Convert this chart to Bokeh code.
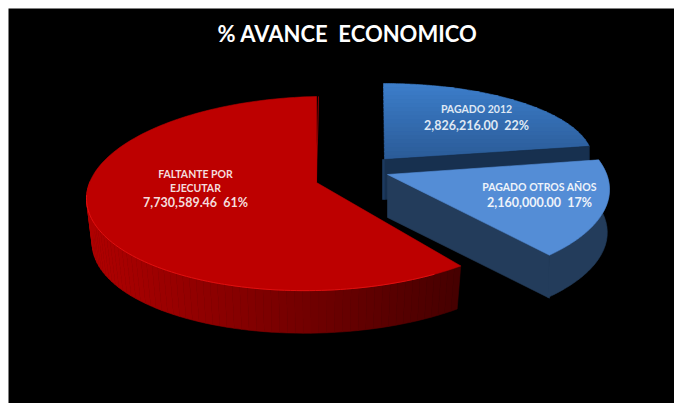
import numpy as np
from bokeh.plotting import figure
from bokeh.models import Range1d, ColumnDataSource
from bokeh.core.properties import value
from bokeh.embed import file_html
from bokeh.resources import INLINE

title_text = "% AVANCE \u00a0ECONOMICO"
categories = ["FALTANTE POR EJECUTAR", "PAGADO OTROS AÑOS", "PAGADO 2012"]
amounts = [7730589.46, 2160000.00, 2826216.00]
percents = [61, 17, 22]
name_lines = [["FALTANTE POR", "EJECUTAR"], ["PAGADO OTROS AÑOS"], ["PAGADO 2012"]]

shares = np.array(amounts) / sum(amounts) * 360.0
starts = 90.0 + np.concatenate([[0.0], np.cumsum(shares)[:-1]])
ends = starts + shares

# layout of each exploded slice in the picture
RED, LIGHT, BLUE = 0, 1, 2
geom = {
    RED:   dict(c=(316, 193), a=230, b=97, skew=5, rot=0, apex=(316, 182), depth=45, inset=0.975),
    LIGHT: dict(c=(387, 189), a=222, b=96, skew=0, rot=8, apex=(387, 174), depth=43, inset=0.99),
    BLUE:  dict(c=(383, 159), a=209, b=76, skew=0, rot=0, apex=(384, 159), depth=40, inset=1.0),
}

def rim(g, t, bottom=False):
    t = np.radians(np.asarray(t, dtype=float) + g["rot"])
    f = g["inset"] if bottom else 1.0
    x = g["c"][0] + g["a"] * f * np.cos(t)
    y = g["c"][1] - g["b"] * f * np.sin(t) - g["skew"] * np.cos(t)
    if bottom:
        y = y + g["depth"]
    return x, y

def top_poly(i, n=160):
    g = geom[i]
    x, y = rim(g, np.linspace(starts[i], ends[i], n))
    return np.r_[g["apex"][0], x], np.r_[g["apex"][1], y]

def clip_band(xs, ys, y0, y1):
    pts = list(zip(xs, ys))
    for keep, lim in ((lambda v: v >= y0, y0), (lambda v: v <= y1, y1)):
        out = []
        for k in range(len(pts)):
            p_, q = pts[k - 1], pts[k]
            if keep(p_[1]) != keep(q[1]):
                r = (lim - p_[1]) / (q[1] - p_[1])
                out.append((p_[0] + r * (q[0] - p_[0]), lim))
            if keep(q[1]):
                out.append(q)
        pts = out
        if not pts:
            return [], []
    return [a for a, _ in pts], [b for _, b in pts]

def mix(c0, c1, r):
    r = float(np.clip(r, 0, 1))
    return "#%02x%02x%02x" % tuple(int(round(u + (v - u) * r)) for u, v in zip(c0, c1))

p = figure(width=674, height=403, output_backend="svg", toolbar_location=None,
           x_range=Range1d(8, 674), y_range=Range1d(403, 8),
           background_fill_color="#000000", border_fill_color="#ffffff",
           min_border=0, min_border_left=8, min_border_top=8,
           outline_line_color=None)
p.axis.visible = False
p.grid.visible = False

def fill(xs, ys, color):
    p.patch(list(xs), list(ys), fill_color=color, line_color=color, line_width=0.6)

# PAGADO 2012: top with vertical shading, then the cut walls
g = geom[BLUE]
ax, ay = g["apex"]
xs, ys = top_poly(BLUE)
edges = np.arange(ys.min(), ys.max() + 4, 4)
for y0, y1 in zip(edges[:-1], edges[1:]):
    bx, by = clip_band(xs, ys, y0, y1 + 0.5)
    if bx:
        fill(bx, by, mix((0x3c, 0x7d, 0xc9), (0x2a, 0x5a, 0x96), (y0 - edges[0]) / (edges[-1] - edges[0])))
sx, sy = rim(g, starts[BLUE])
fill([ax, sx, sx, ax], [ay, sy, sy + g["depth"], ay + g["depth"]], "#17304f")
fill([ax - 2, ax, ax, ax - 2], [ay, ay, ay + g["depth"], ay + g["depth"]], "#1c3a60")

# PAGADO OTROS AÑOS: walls and top
g = geom[LIGHT]
ax, ay = g["apex"]
ex, ey = rim(g, starts[LIGHT])
fill([ax, ex, ex, ax], [ay, ey, ey + g["depth"], ay + g["depth"]], "#233c5b")
ts = np.linspace(starts[LIGHT], ends[LIGHT], 80)
tx, ty = rim(g, ts)
bx, by = rim(g, ts, bottom=True)
fill(np.r_[tx, bx[::-1]], np.r_[ty, by[::-1]], "#233c5b")
xs, ys = top_poly(LIGHT)
fill(xs, ys, "#548dd6")

# FALTANTE: outer wall with shading, thin cut wall, top, bright rim
g = geom[RED]
ax, ay = g["apex"]
ts = np.linspace(170, ends[RED], 70)
for t0, t1 in zip(ts[:-1], ts[1:]):
    a0, b0 = rim(g, t0)
    a1, b1 = rim(g, t1)
    c0, d0 = rim(g, t0, bottom=True)
    c1, d1 = rim(g, t1, bottom=True)
    fill([a0, a1, c1, c0], [b0, b1, d1, d0],
         mix((0xb0, 0, 0), (0x44, 0, 0), (float(a0) - 86) / (460 - 86)))
sx, sy = rim(g, starts[RED])
fill([sx + 2, sx + 1, ax - 5, ax], [sy, sy + 43, ay - 4, ay], "#a00000")
xs, ys = top_poly(RED)
fill(xs, ys, "#bd0000")
lx, ly = rim(g, np.linspace(178, ends[RED] - 8, 80))
p.line(lx, ly, line_color="#e01010", line_width=1)

# texts
font = value("Lato")
def put(x, y, text, size, color, weight="bold"):
    src = ColumnDataSource(dict(x=[x], y=[y], t=[text]))
    p.text("x", "y", text="t", source=src, text_font=font, text_font_size=size,
           text_color=color, text_font_style=weight, text_align="center", text_baseline="middle")

put(347, 33, title_text, "22px", "#ffffff")
money = ["{:,.2f} \u00a0{}%".format(v, q) for v, q in zip(amounts, percents)]
put(195, 173, name_lines[RED][0], "10.5px", "#f4dddd")
put(195, 187, name_lines[RED][1], "10.5px", "#f4dddd")
put(195, 202, money[RED], "12.5px", "#f4dddd")
put(539, 186, name_lines[LIGHT][0], "10.5px", "#eef3fa")
put(539, 202, money[LIGHT], "12.5px", "#eef3fa")
put(476, 108, name_lines[BLUE][0], "10.5px", "#dfe8f4")
put(476, 125, money[BLUE], "12.5px", "#dfe8f4")

open("out.html", "w").write(file_html(p, INLINE))
